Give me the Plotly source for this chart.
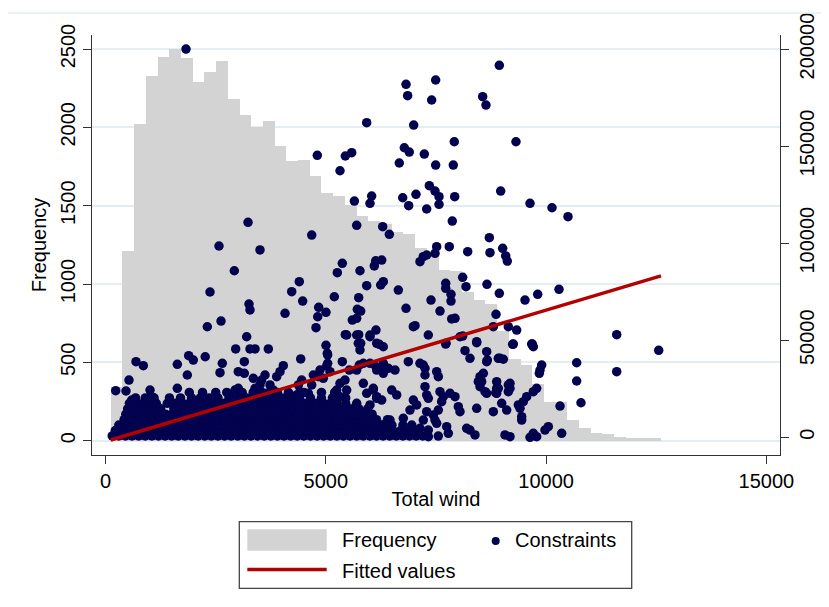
import plotly.graph_objects as go

# ---------------- data ----------------
bin_start = 116.0
bin_width = 265.8
frequency = [342, 1211, 2024, 2327, 2451, 2500, 2440, 2290, 2355, 2425, 2180, 2081,
             2002, 2038, 1880, 1784, 1793, 1688, 1579, 1560, 1506, 1436, 1400,
             1380, 1330, 1320, 1230, 1200, 1090, 1080, 950, 900, 870, 700, 520, 480,
             360, 250, 250, 130, 80, 50, 45, 25, 20, 20, 15]

# scattered constraint points (Total wind, constraint value)
upper_pts = [
    (1825, 200000), (5927, 162050), (4806, 145250), (5442, 144900), (5587, 146600),
    (5321, 137300), (5647, 121700), (6040, 124300), (6002, 120500), (3233, 110750),
    (5700, 109200), (6290, 108500), (6820, 181800), (6857, 175950), (7493, 184050),
    (7402, 173750), (8938, 191600), (8560, 175450), (8635, 171150), (6994, 160850),
    (7916, 152250), (9316, 152250), (6781, 149150), (6894, 146950), (7235, 145900),
    (6667, 141300), (7493, 140250), (7893, 140250), (7349, 129600), (7478, 126850),
    (7569, 123950), (7925, 123950), (6745, 123400), (7046, 125150), (6880, 119300),
    (7289, 117600), (7569, 120000), (8969, 126850), (9635, 120500), (10134, 118250),
    (10497, 113650), (7870, 111400),
]
middle_pts = [
    (6441, 104550), (8711, 102800), (7802, 98200), (8220, 95600), (7516, 98200),
    (7478, 94800), (8726, 95100), (9014, 97350), (9083, 93400), (9119, 90800),
    (7137, 90450), (7212, 93050), (7289, 93900), (6268, 91300), (8106, 82400),
    (8182, 77600), (7721, 79300), (7721, 76750), (7841, 73650), (7841, 70200),
    (8658, 78800), (8938, 74150), (9521, 70700), (9809, 73650), (10293, 76250),
    (6645, 75850), (6304, 80150), (7387, 70700), (6820, 66450), (7591, 65050),
    (8863, 63350), (7932, 61300), (7857, 60950), (8802, 57000), (9142, 57000),
    (7024, 57500), (6986, 57000), (9332, 55250), (11603, 52850), (12556, 44800),
    (7326, 52700), (8045, 51800), (8106, 52150), (8424, 49250), (7721, 48050),
    (9241, 47900), (9673, 48050), (9710, 46650), (8159, 44600), (8651, 44100),
    (6304, 46650), (10694, 38400), (11603, 33800), (10694, 29000), (10792, 17800),
    (9900, 37250), (9862, 34650), (9846, 32950), (8915, 40700), (9029, 40200),
    (8651, 38950), (8272, 40700), (6872, 38950), (7212, 37250), (8500, 31200),
    (8575, 32950), (8537, 28650), (8878, 28650), (8878, 25250), (8856, 22950),
    (9181, 27800), (9181, 25250), (8651, 22650), (10316, 16100), (10354, 2050),
    (2574, 98550), (3505, 96500), (4679, 104200), (2922, 85800), (2370, 74850),
    (3255, 68650), (3278, 65600), (2309, 56950), (2620, 59900), (4073, 63850),
    (4397, 80150), (4225, 75000), (4474, 70200), (5373, 89600), (5260, 84800),
    (5775, 85800), (6132, 90950), (6100, 88250), (6245, 78450), (5927, 78100),
    (5192, 72400), (5745, 71900), (4837, 66950), (4815, 62100), (5003, 64400),
    (4776, 56450), (5714, 65900), (5791, 65050), (5700, 61300), (5600, 60400),
    (5442, 52850), (5745, 52850), (5791, 48400), (6138, 55250), (6002, 51800),
    (6213, 47900), (3203, 51800), (2953, 45500), (3278, 45500), (3392, 45500),
    (3694, 45500), (3149, 38950), (2261, 41500), (1886, 42050), (1991, 39800),
    (1628, 37600), (690, 38950), (856, 36900), (1855, 32100), (2649, 38100),
    (2597, 33300), (3012, 33800), (3149, 32950), (4429, 40350), (5003, 47400),
    (5033, 43250), (5373, 38950), (5019, 36750), (4034, 36900), (3959, 33800),
    (531, 29500), (229, 24000), (1628, 25250), (5760, 37250), (5533, 34650),
    (6138, 36350), (6304, 38100), (1008, 24350), (1046, 20900), (463, 23850),
    (592, 19200),
]
lower_pts = [
    (7728, 48400), (8424, 48700), (8666, 39800), (8953, 40700), (9256, 48050),
    (9687, 48050), (6304, 37250), (6304, 32950), (6418, 35550), (6570, 34650),
    (7137, 38100), (7251, 35550), (7251, 32100), (7516, 33800), (7553, 31200),
    (6077, 25250), (6154, 20900), (6268, 19200), (6495, 24350), (6608, 21800),
    (6986, 19200), (6910, 14050), (7062, 16650), (6758, 9800), (6456, 8900),
    (7251, 26050), (7289, 21800), (7326, 20100), (7591, 23500), (7666, 20900),
    (7819, 22650), (7932, 20900), (8007, 15750), (8045, 13200), (7629, 18350),
    (7553, 14050), (7440, 11500), (7478, 8900), (7289, 13200), (7212, 8900),
    (8461, 28650), (8500, 26050), (8613, 23500), (8915, 25250), (8878, 22650),
    (9142, 26950), (9142, 23500), (8424, 14950), (8802, 13200), (8992, 17500),
    (9105, 14050), (9559, 20900), (9483, 18350), (9408, 14950), (9370, 16650),
    (9710, 23500), (9786, 25250), (9446, 10600), (9446, 8900), (3619, 32100),
    (3543, 29500), (3884, 31200), (3353, 30400), (3505, 26950), (3392, 25250),
    (2938, 24350), (3012, 25250), (2824, 21800), (3732, 26950), (3807, 24350),
    (3657, 22650), (4451, 29500), (4375, 26950), (4413, 23500), (4338, 21800),
    (4716, 32100), (4829, 31200), (4679, 26950), (4602, 22650), (5041, 42400),
    (5041, 38100), (5094, 33800), (4867, 34650), (4942, 30400), (5246, 24350),
    (5321, 27800), (5321, 20900), (5473, 24350), (5435, 29500), (5473, 52700),
    (5700, 52700), (6002, 52700), (5737, 48400), (5775, 45000), (5700, 34650),
    (5851, 38100), (6002, 38100), (6154, 48400), (6154, 34650), (5851, 27800),
    (5927, 22650), (6077, 24350), (6154, 20100), (6002, 16650),
    (7326, 300), (7553, 650), (7780, 2050), (8197, 4650), (8272, 3750), (8386, 1200),
    (9067, 1200), (9181, 300), (9710, 2050), (9786, 300), (9635, 0), (9975, 3750),
    (10050, 5450), (6304, 6350), (7137, 4650), (7743, 5450), (7516, 7200), (7326, 3750),
]
# dense band near zero: x positions read along horizontal strips
band_y = [700, 3500, 6300, 9100, 11900, 14700, 17500, 20300, 23100]
band_x = [
    [150, 300, 450, 600, 750, 900, 1050, 1200, 1350, 1500, 1650, 1800, 1950, 2100, 2250,
     2400, 2550, 2700, 2850, 3000, 3150, 3300, 3450, 3600, 3750, 3900, 4050, 4200, 4350,
     4500, 4650, 4800, 4950, 5100, 5250, 5400, 5550, 5700, 5850, 6000, 6150, 6300, 6450,
     6600, 6750, 6900, 7050, 7200],
    [220, 370, 520, 670, 820, 970, 1120, 1270, 1420, 1570, 1720, 1870, 2020, 2170, 2320,
     2470, 2620, 2770, 2920, 3070, 3220, 3370, 3520, 3670, 3820, 3970, 4120, 4270, 4420,
     4570, 4720, 4870, 5020, 5170, 5320, 5470, 5620, 5770, 5920, 6070, 6220, 6370, 6520,
     6700, 6900, 7100],
    [300, 450, 600, 750, 900, 1050, 1200, 1350, 1500, 1650, 1800, 1950, 2100, 2250, 2400,
     2550, 2700, 2850, 3000, 3150, 3300, 3450, 3600, 3750, 3900, 4050, 4200, 4350, 4500,
     4650, 4800, 4950, 5100, 5250, 5400, 5550, 5700, 5850, 6000, 6150, 6300, 6500, 6750,
     6950],
    [420, 570, 720, 870, 1020, 1170, 1320, 1470, 1620, 1770, 1920, 2070, 2220, 2370, 2520,
     2670, 2820, 2970, 3120, 3270, 3420, 3570, 3720, 3870, 4020, 4170, 4320, 4470, 4620,
     4770, 4920, 5070, 5220, 5370, 5520, 5670, 5820, 5970, 6150, 6400],
    [460, 610, 760, 910, 1060, 1210, 1360, 1510, 1660, 1810, 1960, 2110, 2260, 2410, 2560,
     2710, 2860, 3010, 3160, 3310, 3460, 3610, 3760, 3910, 4060, 4210, 4360, 4510, 4660,
     4810, 4960, 5110, 5260, 5410, 5560, 5710, 5860, 6050],
    [500, 650, 800, 950, 1100, 1250, 1550, 1700, 1850, 2000, 2150, 2300, 2450, 2600, 2750,
     2900, 3050, 3200, 3350, 3500, 3650, 3800, 3950, 4100, 4250, 4400, 4550, 4700, 4850,
     5000, 5150, 5300, 5450, 5600, 5750, 5950],
    [540, 700, 850, 1000, 1150, 1400, 1600, 1750, 1900, 2050, 2250, 2400, 2550, 2700, 2850,
     3000, 3150, 3300, 3450, 3600, 3750, 3900, 4050, 4200, 4350, 4500, 4650, 4800, 4950,
     5100, 5250, 5450, 5700],
    [680, 900, 1100, 1450, 1700, 1950, 2150, 2350, 2550, 2800, 3000, 3200, 3400, 3600, 3800,
     4000, 4200, 4400, 4650, 4900, 5150, 5450],
    [1900, 2200, 2500, 2750, 3100, 3350, 3550, 3900, 4150, 4500, 4900, 5200],
]
# fitted values (linear fit) end points
fit_x = [116, 12608]
fit_y = [-1400, 83150]

x_ticks = [0, 5000, 10000, 15000]
y1_ticks = [0, 500, 1000, 1500, 2000, 2500]
y2_ticks = [0, 50000, 100000, 150000, 200000]

# ---------------- build ----------------
bin_centers = [bin_start + bin_width * (i + 0.5) for i in range(len(frequency))]

sc_x, sc_y = [], []
for yv, xs in zip(band_y, band_x):
    for x in xs:
        sc_x.append(x)
        sc_y.append(yv)
for x, y in upper_pts + middle_pts + lower_pts:
    sc_x.append(x)
    sc_y.append(y)

FONT = "Liberation Sans, Arial, sans-serif"
NAVY = "#02024f"
RED = "#b30000"
GRAY = "#d3d3d3"
GRID = "#e4edf2"
AX = "#333333"

fig = go.Figure()
fig.add_trace(go.Bar(x=bin_centers, y=frequency, width=bin_width, marker=dict(color=GRAY, line=dict(width=0)),
                     name="Frequency", showlegend=False))
fig.add_trace(go.Scatter(x=sc_x, y=sc_y, mode="markers", yaxis="y2", name="Constraints",
                         marker=dict(color=NAVY, size=9.5, line=dict(width=0)), showlegend=False))
fig.add_trace(go.Scatter(x=fit_x, y=fit_y, mode="lines", yaxis="y2", name="Fitted values",
                         line=dict(color=RED, width=3.5), showlegend=False))

# the page body adds an 8px offset; lay out in reference pixel coordinates minus that offset
OFF = 8
W, H = 829 - 2 * OFF, 607 - 2 * OFF
L, R, T, B = 92 - OFF, 780 - OFF, 35 - OFF, 455 - OFF
pw, ph = R - L, B - T


def px(x):
    return (x - OFF - L) / pw


def py(y):
    return (B - (y - OFF)) / ph


fig.update_layout(
    width=W, height=H,
    margin=dict(l=L, r=W - R, t=T, b=H - B, pad=0),
    plot_bgcolor="white", paper_bgcolor="white",
    bargap=0,
    font=dict(family=FONT, size=20, color="black"),
    xaxis=dict(range=[-309, 15310], tickvals=x_ticks, ticktext=[str(v) for v in x_ticks],
               ticks="outside", ticklen=8, tickcolor=AX, automargin=False,
               showline=True, linecolor=AX, linewidth=1.3, showgrid=False, zeroline=False,
               title=dict(text="Total wind", font=dict(size=20), standoff=0),
               tickfont=dict(size=20)),
    yaxis=dict(range=[-91.3, 2589.4], tickvals=y1_ticks, ticktext=[str(v) for v in y1_ticks],
               ticks="outside", ticklen=8, tickcolor=AX, automargin=False,
               showline=True, linecolor=AX, linewidth=1.3, showgrid=True, gridcolor=GRID, gridwidth=1.5,
               zeroline=False, tickangle=-90,
               title=dict(text="Frequency", font=dict(size=20), standoff=4),
               tickfont=dict(size=20)),
    yaxis2=dict(range=[-9117, 207232], tickvals=y2_ticks, ticktext=[str(v) for v in y2_ticks],
                overlaying="y", side="right", automargin=False, ticklabelstandoff=1,
                ticks="outside", ticklen=8, tickcolor=AX, showline=True, linecolor=AX, linewidth=1.3,
                showgrid=False, zeroline=False, tickangle=-90, tickfont=dict(size=20)),
    showlegend=False,
)

shapes = [
    dict(type="line", xref="paper", yref="paper", x0=px(OFF), x1=px(829 - OFF), y0=py(13), y1=py(13),
         line=dict(color=GRID, width=1.5)),
    dict(type="rect", xref="paper", yref="paper", x0=px(239.3), x1=px(631.7), y0=py(588.3), y1=py(521.7),
         line=dict(color="#444444", width=1.3), fillcolor="white"),
    dict(type="rect", xref="paper", yref="paper", x0=px(247.3), x1=px(326.7), y0=py(550.7), y1=py(529.3),
         line=dict(width=0), fillcolor=GRAY),
    dict(type="line", xref="paper", yref="paper", x0=px(247.3), x1=px(326.7), y0=py(569.5), y1=py(569.5),
         line=dict(color=RED, width=3.5)),
    dict(type="circle", xref="paper", yref="paper", x0=px(491.7), x1=px(499.7), y0=py(545), y1=py(537),
         line=dict(width=0), fillcolor=NAVY),
]
fig.update_layout(shapes=shapes)

ann = []
for text, lx, ly in [("Frequency", 340, 540), ("Constraints", 513.3, 540), ("Fitted values", 340, 571)]:
    ann.append(dict(text=text, xref="paper", yref="paper", x=px(lx), y=py(ly), xanchor="left", yanchor="middle",
                    showarrow=False, font=dict(size=20, family=FONT, color="black")))
fig.update_layout(annotations=ann)

fig.write_html("out.html")
